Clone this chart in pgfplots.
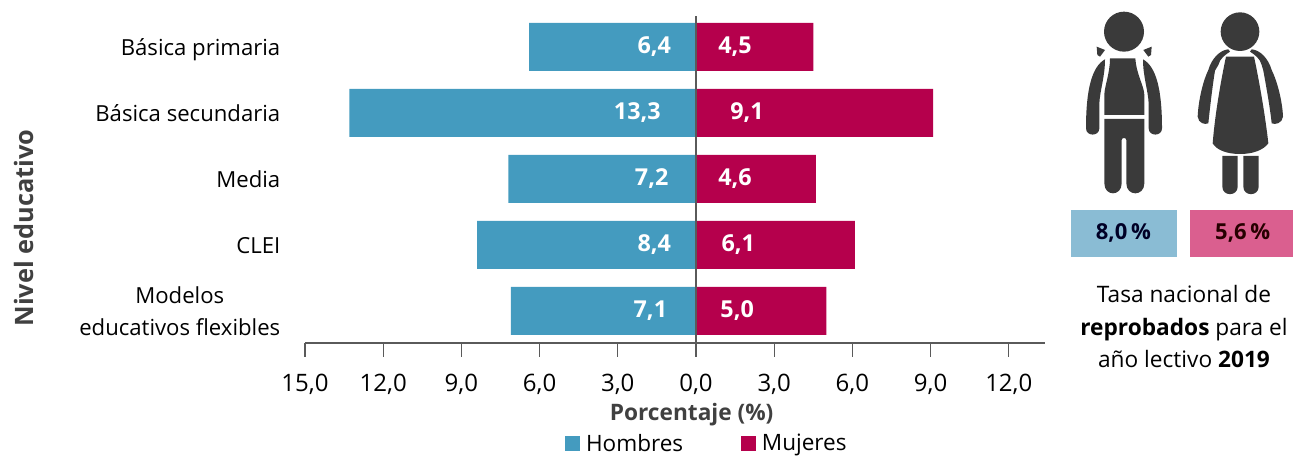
\documentclass[border=0pt]{standalone}
\usepackage{fontspec}
\setmainfont{Open Sans}
\usepackage{pgfplots}
\pgfplotsset{compat=1.18}
\usepackage{pgfplotstable}
\definecolor{hom}{HTML}{449BBF}
\definecolor{muj}{HTML}{B5004C}
\definecolor{axisgr}{HTML}{5A5A5A}
\definecolor{dk}{HTML}{404040}
\definecolor{ic}{HTML}{3A3A3A}
\definecolor{boxh}{HTML}{8ABCD4}
\definecolor{boxm}{HTML}{DA5F8F}
\pgfplotstableread{
y h m
4 -6.4 4.5
3 -13.3 9.1
2 -7.2 4.6
1 -8.4 6.1
0 -7.1 5.0
}\datos
\pgfplotstableread{
x y lab
-1.6 4 {6,4}
-2.25 3 {13,3}
-1.7 2 {7,2}
-1.6 1 {8,4}
-1.75 0 {7,1}
}\etqh
\pgfplotstableread{
x y lab
1.5 4 {4,5}
1.96 3 {9,1}
1.5 2 {4,6}
1.62 1 {6,1}
1.58 0 {5,0}
}\etqm
\begin{document}
\begin{tikzpicture}
\useasboundingbox (0,0) rectangle (972pt,342pt);
\begin{axis}[
  at={(228.75pt,84.75pt)}, anchor=south west,
  scale only axis, width=555pt, height=246.75pt,
  xmin=-15, xmax=13.39, ymin=-0.485, ymax=4.5,
  clip=false,
  axis x line=bottom, axis y line=left,
  axis line style={axisgr, line width=0.9pt, -},
  y axis line style={draw=none},
  xtick={-15,-12,-9,-6,-3,0,3,6,9,12},
  xticklabels={{15,0},{12,0},{9,0},{6,0},{3,0},{0,0},{3,0},{6,0},{9,0},{12,0}},
  tick align=outside,
  x tick style={axisgr, line width=0.9pt},
  xtick style={axisgr},
  major tick length=10.5pt,
  ytick={0,1,2,3,4},
  yticklabels={{\vphantom{Ág}Modelos\\\vphantom{Ág}educativos flexibles},\vphantom{Ág}CLEI,\vphantom{Ág}Media,\vphantom{Ág}Básica secundaria,\vphantom{Ág}Básica primaria},
  y tick style={draw=none},
  yticklabel style={font=\fontsize{16.6}{24}\selectfont, align=center, xshift=-4.5pt, yshift=-1pt, black},
  xticklabel style={font=\fontsize{18}{20}\selectfont, yshift=-9.5pt, black},
  xlabel={\bfseries Porcentaje (\%)},
  xlabel style={font=\fontsize{17}{18}\selectfont, dk, at={(axis description cs:0.5,0)}, anchor=center, yshift=-54pt, xshift=12.5pt},
  legend columns=2,
  legend style={at={(axis description cs:0.5,0)}, anchor=center, yshift=-75.5pt, xshift=24pt, draw=none, fill=none,
    font=\fontsize{16.9}{18}\selectfont, /tikz/every even column/.style={column sep=41pt}, inner sep=0pt},
  legend image code/.code={\fill[#1] (0pt,-5.5pt) rectangle (11.5pt,5.5pt); \path (14pt,0pt);},
  bar shift=0pt,
]
\addplot[xbar, bar width=36pt, draw=none, fill=hom] table[x=h,y=y]{\datos};
\addlegendentry{Hombres}
\addplot[xbar, bar width=36pt, draw=none, fill=muj] table[x=m,y=y]{\datos};
\addlegendentry{Mujeres}
\addplot[forget plot, axisgr, line width=1.1pt] coordinates {(0,-0.697) (0,4.47)};
\addplot[forget plot, draw=none, mark=none, point meta=explicit symbolic, nodes near coords, nodes near coords align=center,
  every node near coord/.style={white, font=\fontsize{17.5}{18}\selectfont\bfseries, anchor=center}]
  table[x=x,y=y,meta=lab]{\etqh};
\addplot[forget plot, draw=none, mark=none, point meta=explicit symbolic, nodes near coords, nodes near coords align=center,
  every node near coord/.style={white, font=\fontsize{17.5}{18}\selectfont\bfseries, anchor=center}]
  table[x=x,y=y,meta=lab]{\etqm};
\end{axis}
% rotated y label
\node[rotate=90, font=\fontsize{19}{20}\selectfont\bfseries, dk] at (18pt,171pt) {Nivel educativo};
% icons (coordinates in 1/3 px from (1050,0) top-left)
\begin{scope}[shift={(787.5pt,342pt)}, x=0.25pt, y=-0.25pt]
 % boy
 \fill[ic] (222,95) circle[radius=60];
 \fill[ic] (140,140) -- (165,150) -- (150,170) -- (142,165) -- cycle;
 \fill[ic] (305,140) -- (280,150) -- (295,170) -- (303,165) -- cycle;
 \fill[ic] (180,175) -- (256,175) .. controls (258,220) and (283,260) .. (283,285) -- (283,345) -- (163,345) -- (163,285) .. controls (163,260) and (180,220) .. (180,175) -- cycle;
 \fill[ic] (165,178) .. controls (125,200) and (108,270) .. (108,385) .. controls (108,410) and (148,410) .. (148,385) -- (148,310) .. controls (150,270) and (165,230) .. (165,178) -- cycle;
 \fill[ic] (279,178) .. controls (319,200) and (336,270) .. (336,385) .. controls (336,410) and (296,410) .. (296,385) -- (296,310) .. controls (294,270) and (279,230) .. (279,178) -- cycle;
 \fill[ic] (163,357) -- (283,357) -- (283,550) .. controls (283,590) and (229,590) .. (229,550) -- (229,420) .. controls (229,412) and (215,412) .. (215,420) -- (215,550) .. controls (215,590) and (163,590) .. (163,550) -- cycle;
 % girl
 \fill[ic] (570,95) circle[radius=58];
 \fill[ic] (528,170) -- (612,170) .. controls (625,230) and (645,340) .. (655,430) .. controls (640,450) and (610,462) .. (570,462) .. controls (530,462) and (500,450) .. (488,430) .. controls (495,340) and (515,230) .. (528,170) -- cycle;
 \fill[ic] (475,210) .. controls (485,175) and (510,150) .. (535,148) -- (540,155) .. controls (525,165) and (510,175) .. (505,195) -- (495,212) .. controls (490,240) and (480,320) .. (475,370) .. controls (465,375) and (445,370) .. (443,350) .. controls (445,300) and (460,240) .. (475,210) -- cycle;
 \fill[ic] (665,210) .. controls (655,175) and (630,150) .. (605,148) -- (600,155) .. controls (615,165) and (630,175) .. (635,195) -- (640,212) .. controls (645,240) and (660,320) .. (665,370) .. controls (675,375) and (697,370) .. (699,350) .. controls (697,300) and (680,240) .. (665,210) -- cycle;
 \fill[ic] (517,468) -- (563,468) -- (563,560) .. controls (563,590) and (517,590) .. (517,560) -- cycle;
 \fill[ic] (580,468) -- (626,468) -- (626,560) .. controls (626,590) and (580,590) .. (580,560) -- cycle;
 % boxes
 \fill[fill=boxh] (62,630) rectangle (380,770);
 \fill[fill=boxm] (420,630) rectangle (730,770);
 \node[font=\fontsize{16.5}{16}\selectfont\bfseries, text=black!85!blue] at (220,698) {8,0\,\%};
 \node[font=\fontsize{16.5}{16}\selectfont\bfseries, text=black!85!red] at (578,698) {5,6\,\%};
 \node[align=center, font=\fontsize{17}{24.5}\selectfont, black] at (402,980) {Tasa nacional de\\\textbf{reprobados} para el\\año lectivo \textbf{2019}};
\end{scope}
\end{tikzpicture}
\end{document}
